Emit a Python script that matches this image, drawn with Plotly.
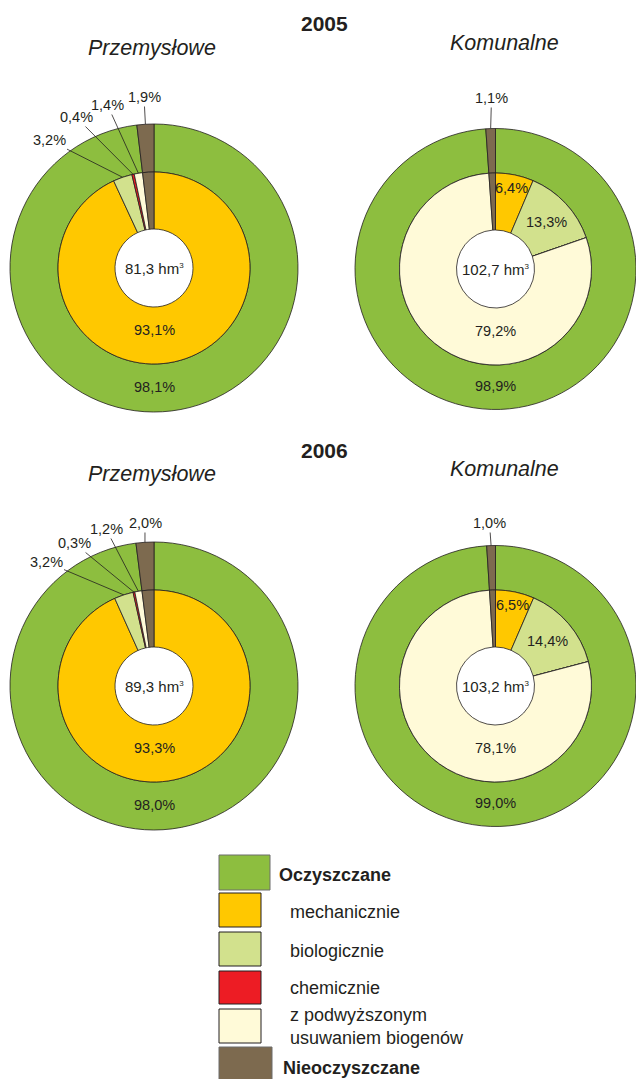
import math
import plotly.graph_objects as go

# ---------------- data ----------------
chart_years = ["2005", "2005", "2006", "2006"]
chart_types = ["Przemysłowe", "Komunalne", "Przemysłowe", "Komunalne"]
volume_hm3 = ["81,3", "102,7", "89,3", "103,2"]

oczyszczane = [98.1, 98.9, 98.0, 99.0]
nieoczyszczane = [1.9, 1.1, 2.0, 1.0]
mechanicznie = [93.1, 6.4, 93.3, 6.5]
biologicznie = [3.2, 13.3, 3.2, 14.4]
chemicznie = [0.4, 0.0, 0.3, 0.0]
biogeny = [1.4, 79.2, 1.2, 78.1]

legend_labels = ["Oczyszczane", "mechanicznie", "biologicznie", "chemicznie",
                 "z podwyższonym<br>usuwaniem biogenów", "Nieoczyszczane"]

# ---------------- style / layout ----------------
W, H = 636, 1079
C_GREEN = "#8DBE3F"
C_BROWN = "#7D6A4F"
C_YELLOW = "#FFC800"
C_LGREEN = "#D2E18D"
C_RED = "#ED1C24"
C_LYELLOW = "#FFFAD8"
C_LINE = "#231F20"
FONT = "Liberation Sans, Arial, sans-serif"
TXT = "#231F20"

centers = [(154, 268), (495.5, 269), (154, 686), (495.5, 686)]
outer_r = [144, 140.5, 144, 140.5]
inner_r = 96
hole_r = 39
# pixel offsets of outside labels relative to the chart centre (bio, chem, biogeny, brown)
outside_text = [
    [(-105, -128), (-78, -151), (-46.5, -163), (-10, -171)],
    [None, None, None, (-4, -171)],
    [(-108, -124), (-80, -143), (-48, -157), (-9, -163)],
    [None, None, None, (-6, -163)],
]


def px(x):
    return x / W


def py(y):
    return 1 - y / H


def polar(c, r, ang):
    a = math.radians(ang)
    return c[0] + r * math.sin(a), c[1] - r * math.cos(a)


def fmt(v):
    return f"{v:.1f}".replace(".", ",") + "%"


fig = go.Figure()
annotations = []
shapes = []

for i in range(4):
    c = centers[i]
    R = outer_r[i]
    # outer ring
    fig.add_trace(go.Pie(
        values=[oczyszczane[i], nieoczyszczane[i]],
        labels=["Oczyszczane", "Nieoczyszczane"],
        marker=dict(colors=[C_GREEN, C_BROWN], line=dict(color=C_LINE, width=0.8)),
        sort=False, direction="clockwise", rotation=0,
        hole=inner_r / R, textinfo="none", hoverinfo="skip", showlegend=False,
        domain=dict(x=[px(c[0] - R), px(c[0] + R)], y=[py(c[1] + R), py(c[1] - R)]),
    ))
    # inner ring
    inner_vals = [mechanicznie[i], biologicznie[i], chemicznie[i], biogeny[i], nieoczyszczane[i]]
    fig.add_trace(go.Pie(
        values=inner_vals,
        labels=["mechanicznie", "biologicznie", "chemicznie", "biogeny", "Nieoczyszczane"],
        marker=dict(colors=[C_YELLOW, C_LGREEN, C_RED, C_LYELLOW, C_BROWN],
                    line=dict(color=C_LINE, width=0.8)),
        sort=False, direction="clockwise", rotation=0,
        hole=hole_r / inner_r, textinfo="none", hoverinfo="skip", showlegend=False,
        domain=dict(x=[px(c[0] - inner_r), px(c[0] + inner_r)],
                    y=[py(c[1] + inner_r), py(c[1] - inner_r)]),
    ))

    lab_font = dict(family=FONT, size=14.5, color=TXT)
    # outer green label at the bottom of the ring
    x, y = polar(c, (inner_r + R) / 2 - 1, 180)
    annotations.append(dict(x=px(x), y=py(y), text=fmt(oczyszczane[i]), showarrow=False,
                            font=lab_font, xanchor="center", yanchor="middle"))
    # centre text
    annotations.append(dict(x=px(c[0]), y=py(c[1]),
                            text=f"{volume_hm3[i]} hm<sup><span style='font-size:8px'>3</span></sup>",
                            showarrow=False, font=dict(family=FONT, size=15, color=TXT),
                            xanchor="center", yanchor="middle"))
    # inner labels
    start = 0.0
    big = max(inner_vals[:4])
    for k, v in enumerate(inner_vals):
        mid = (start + v / 2) / 100 * 360
        start += v
        if v == 0:
            continue
        if k == 4 or v < 5:
            # outside label with leader line
            slot = 3 if k == 4 else k - 1
            off = outside_text[i][slot]
            tip_r = R if k == 4 else inner_r
            tx, ty = polar(c, tip_r, mid)
            annotations.append(dict(x=px(tx), y=py(ty), text=fmt(v), showarrow=True,
                                    arrowhead=0, arrowwidth=0.8, arrowcolor=C_LINE,
                                    ax=c[0] + off[0] - tx, ay=c[1] + off[1] - ty,
                                    axref="pixel", ayref="pixel", standoff=0,
                                    borderpad=1, font=lab_font))
        elif v == big:
            x, y = polar(c, 62, 180)
            annotations.append(dict(x=px(x), y=py(y), text=fmt(v), showarrow=False,
                                    font=lab_font, xanchor="center", yanchor="middle"))
        else:
            rr = inner_r * (0.86 if v < 10 else 0.72)
            x, y = polar(c, rr, mid)
            annotations.append(dict(x=px(x), y=py(y), text=fmt(v), showarrow=False,
                                    font=lab_font, xanchor="center", yanchor="middle"))

# titles
for yr, ypos in [("2005", 23), ("2006", 451)]:
    annotations.append(dict(x=px(324.5), y=py(ypos), text=f"<b>{yr}</b>", showarrow=False,
                            font=dict(family=FONT, size=21, color=TXT),
                            xanchor="center", yanchor="middle"))
for name, xpos, ypos in [("Przemysłowe", 152, 48), ("Komunalne", 504, 43),
                         ("Przemysłowe", 152, 474), ("Komunalne", 504, 469)]:
    annotations.append(dict(x=px(xpos), y=py(ypos), text=f"<i>{name}</i>", showarrow=False,
                            font=dict(family=FONT, size=21.5, color=TXT),
                            xanchor="center", yanchor="middle"))

# legend
legend_colors = [C_GREEN, C_YELLOW, C_LGREEN, C_RED, C_LYELLOW, C_BROWN]
legend_boxes = [(219, 855, 270, 890), (219, 893, 261, 927), (219, 932, 261, 966),
                (219, 971, 261, 1004), (219, 1009, 261, 1043), (219, 1047, 272, 1082)]
legend_text_pos = [(277, 875), (288, 912), (288, 951), (288, 988), (288, 1026), (281, 1068)]
for k, lab in enumerate(legend_labels):
    x0, y0, x1, y1 = legend_boxes[k]
    shapes.append(dict(type="rect", xref="paper", yref="paper",
                       x0=px(x0), x1=px(x1), y0=py(y1), y1=py(y0),
                       fillcolor=legend_colors[k],
                       line=dict(color="#6d6d6d" if k in (0, 5) else C_LINE, width=1)))
    bold = k in (0, 5)
    tx, ty = legend_text_pos[k]
    annotations.append(dict(x=px(tx), y=py(ty), text=f"<b>{lab}</b>" if bold else lab,
                            showarrow=False, align="left",
                            font=dict(family=FONT, size=18, color=TXT),
                            xanchor="left", yanchor="middle"))

fig.update_layout(
    width=W, height=H,
    margin=dict(l=0, r=0, t=0, b=0),
    paper_bgcolor="white", plot_bgcolor="white",
    annotations=annotations, shapes=shapes,
    showlegend=False,
)

fig.write_html("out.html", config={"displayModeBar": False},
               post_script="document.body.style.margin='0';document.body.style.overflow='hidden';")
